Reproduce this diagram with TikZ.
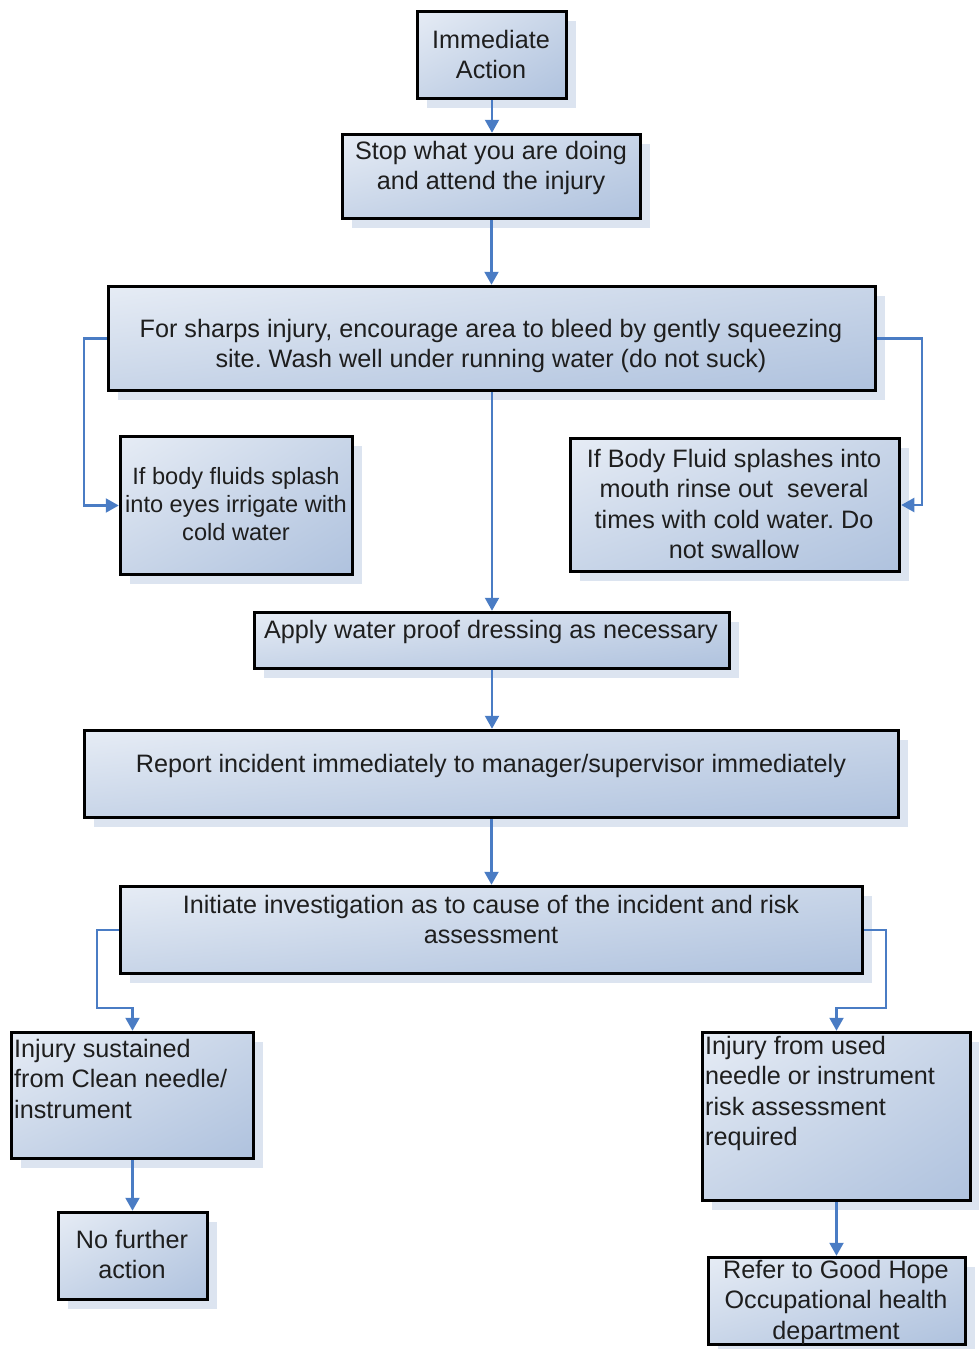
\documentclass[tikz,border=0pt]{standalone}
\usepackage{fontspec}
\setmainfont{Liberation Sans}
\frenchspacing
\usetikzlibrary{shadows,shadings,arrows.meta}
\definecolor{shadowc}{HTML}{DCE4F0}
\definecolor{cA}{HTML}{E6ECF5}
\definecolor{cB}{HTML}{C8D5E8}
\definecolor{cC}{HTML}{AFC2DE}
\definecolor{linkc}{HTML}{4A7CC4}
\definecolor{txtc}{HTML}{1E1E1E}
\tikzset{
  box/.style={draw=black, line width=3.5pt, rectangle, inner sep=0pt,
    shade, upper left=cA, upper right=cB, lower left=cB, lower right=cC,
    drop shadow={shadow xshift=9pt, shadow yshift=-9pt, fill=shadowc, opacity=1}},
  txt/.style={inner sep=0pt, anchor=north, text=txtc,
    font=\fontsize{25.2}{30.5}\selectfont},
  smalltxt/.style={txt, font=\fontsize{23.6}{28}\selectfont},
  link/.style={draw=linkc, line width=2.2pt, -{Triangle[width=14pt,length=13pt]}}
}
\begin{document}
\begin{tikzpicture}[x=1pt,y=-1pt]
\useasboundingbox (0,0) rectangle (979,1349);
% boxes
\node[box, minimum width=149, minimum height=87] (b1) at (492,55) {};
\node[box, minimum width=298, minimum height=84] (b2) at (491.5,176.5) {};
\node[box, minimum width=767, minimum height=104] (b3) at (492,338.5) {};
\node[box, minimum width=232, minimum height=138] (b4) at (236.5,505.5) {};
\node[box, minimum width=329, minimum height=133] (b5) at (735,505) {};
\node[box, minimum width=475, minimum height=56] (b6) at (492,640.5) {};
\node[box, minimum width=814, minimum height=87] (b7) at (491.5,774) {};
\node[box, minimum width=742, minimum height=87] (b8) at (491.5,930) {};
\node[box, minimum width=242, minimum height=126] (b9) at (132.5,1095.5) {};
\node[box, minimum width=268, minimum height=168] (b10) at (836.5,1116.5) {};
\node[box, minimum width=149, minimum height=87] (b11) at (133,1256) {};
\node[box, minimum width=257, minimum height=87] (b12) at (837,1301) {};
% texts
\node[txt, align=center] (t1) at (491,30) {Immediate\\Action};
\node[txt, align=center] (t2) at (491,141) {Stop what you are doing\\and attend the injury};
\node[txt, align=center] (t3) at (491,319) {For sharps injury, encourage area to bleed by gently squeezing\\site. Wash well under running water (do not suck)};
\node[smalltxt, align=center] (t4) at (236,467) {If body fluids splash\\into eyes irrigate with\\cold water};
\node[txt, align=center] (t5) at (734,449) {If Body Fluid splashes into\\mouth rinse out\ \ several\\times with cold water. Do\\not swallow};
\node[txt, align=center] (t6) at (491,620) {Apply water proof dressing as necessary};
\node[txt, align=center] (t7) at (491,754) {Report incident immediately to manager/supervisor immediately};
\node[txt, align=center] (t8) at (491,895) {Initiate investigation as to cause of the incident and risk\\assessment};
\node[txt, align=left, anchor=north west] (t9) at (14,1039) {Injury sustained\\from Clean needle/\\instrument};
\node[txt, align=left, anchor=north west] (t10) at (705,1036) {Injury from used\\needle or instrument\\risk assessment\\required};
\node[txt, align=center] (t11) at (132,1230) {No further\\action};
\node[txt, align=center] (t12) at (836,1260) {Refer to Good Hope\\Occupational health\\department};
% connectors
\draw[link] (b1.south) -- (b1.south |- b2.north);
\draw[link] (b2.south) -- (b2.south |- b3.north);
\draw[link] (b3.west) -- ++(-23,0) |- (b4.west);
\draw[link] (b3.east) -- ++(45,0) |- (b5.east);
\draw[link] (b3.south) -- (b3.south |- b6.north);
\draw[link] (b6.south) -- (b6.south |- b7.north);
\draw[link] (b7.south) -- (b7.south |- b8.north);
\draw[link] (b8.west) -- ++(-22,0) -- ++(0,78) -| (b9.north);
\draw[link] (b8.east) -- ++(22,0) -- ++(0,78) -| (b10.north);
\draw[link] (b9.south) -- (b9.south |- b11.north);
\draw[link] (b10.south) -- (b10.south |- b12.north);
\end{tikzpicture}
\end{document}
